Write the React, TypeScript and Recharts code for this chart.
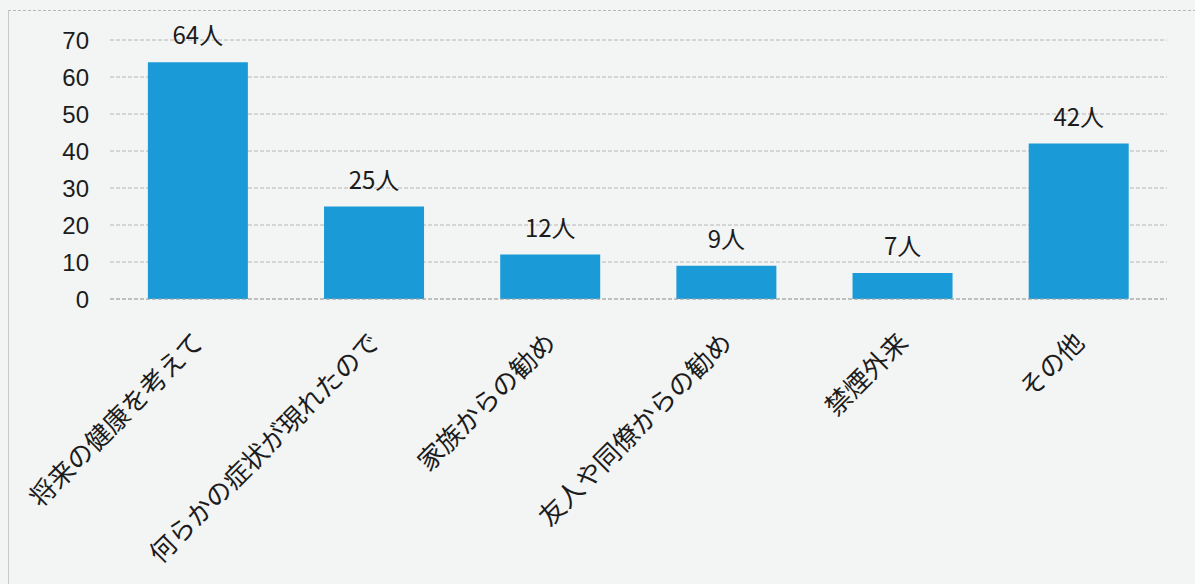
import { BarChart, Bar, XAxis, YAxis, CartesianGrid, LabelList } from "recharts";

const reasons = [
  "将来の健康を考えて",
  "何らかの症状が現れたので",
  "家族からの勧め",
  "友人や同僚からの勧め",
  "禁煙外来",
  "その他",
];
const counts = [64, 25, 12, 9, 7, 42];
const yTicks = [0, 10, 20, 30, 40, 50, 60, 70];

const data = reasons.map((name, i) => ({ name, count: counts[i] }));

const BAR_BLUE = "#1b9ad8";

function SlantTick({ x, y, payload }: any) {
  return (
    <g transform={`translate(${x + 7},${y + 45})`}>
      <text
        textAnchor="end"
        transform="rotate(-45)"
        fontSize={26}
        fill="#1c1c1c"
        fontFamily="'Noto Sans CJK JP', sans-serif"
      >
        {payload.value}
      </text>
    </g>
  );
}

export default function App() {
  return (
    <div
      style={{
        position: "absolute",
        left: 0,
        top: 0,
        width: 1195,
        height: 584,
        background: "#f3f5f4",
        overflow: "hidden",
      }}
    >
      {/* faint frame of the scanned box */}
      <div
        style={{
          position: "absolute",
          left: 8,
          top: 10,
          width: 1187,
          height: 574,
          borderLeft: "1px solid #c8c8c8",
          borderTop: "1px dashed #b8b8b8",
        }}
      />
      <BarChart
        width={1195}
        height={584}
        data={data}
        margin={{ top: 40, right: 28, bottom: 20, left: 0 }}
        barCategoryGap="21.5%"
      >
        <CartesianGrid vertical={false} stroke="#b4b4b4" strokeDasharray="4 2" />
        <XAxis
          dataKey="name"
          interval={0}
          tick={<SlantTick />}
          tickLine={false}
          axisLine={{ stroke: "#a8a8a8", strokeDasharray: "4 2" }}
          tickSize={0}
          tickMargin={0}
          height={265}
        />
        <YAxis
          domain={[0, 70]}
          ticks={yTicks}
          interval={0}
          width={110}
          axisLine={false}
          tickLine={false}
          tickSize={0}
          tickMargin={21}
          tick={{ fontSize: 24, fill: "#1c1c1c", fontFamily: "'Liberation Sans', Arial, sans-serif" }}
        />
        <Bar dataKey="count" fill={BAR_BLUE} isAnimationActive={false}>
          <LabelList
            dataKey="count"
            position="top"
            offset={18}
            formatter={(v: any) => `${v}人`}
            style={{
              fontSize: 24,
              fill: "#1c1c1c",
              fontFamily: "'Liberation Sans Narrow', 'Noto Sans CJK JP', sans-serif",
            }}
          />
        </Bar>
      </BarChart>
    </div>
  );
}
